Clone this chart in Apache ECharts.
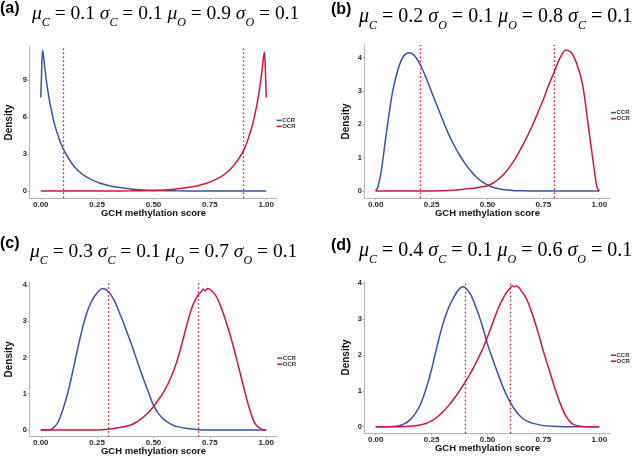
<!DOCTYPE html>
<html><head><meta charset="utf-8">
<script src="https://cdn.jsdelivr.net/npm/echarts@6/dist/echarts.min.js"></script>
<style>html,body{margin:0;padding:0;background:#fff}#c{width:633px;height:471px}</style>
</head><body><div id="c"></div>
<script>
// ---------- data ----------
const panelLabels = ['(a)', '(b)', '(c)', '(d)'];
const seriesNames = ['CCR', 'OCR'];
const muC = [0.1, 0.2, 0.3, 0.4];
const muO = [0.9, 0.8, 0.7, 0.6];
const titleTermsA = [['μ','C','0.1'], ['σ','C','0.1'], ['μ','O','0.9'], ['σ','O','0.1']];
const titleTermsB = [['μ','C','0.2'], ['σ','O','0.1'], ['μ','O','0.8'], ['σ','C','0.1']];
const titleTermsC = [['μ','C','0.3'], ['σ','C','0.1'], ['μ','O','0.7'], ['σ','O','0.1']];
const titleTermsD = [['μ','C','0.4'], ['σ','C','0.1'], ['μ','O','0.6'], ['σ','O','0.1']];
const xTickValues = [0, 0.25, 0.5, 0.75, 1];
const xTickLabels = ['0.00', '0.25', '0.50', '0.75', '1.00'];
const yTickValuesA = [0, 3, 6, 9];
const yTickValuesBCD = [0, 1, 2, 3, 4];
const xAxisTitle = 'GCH methylation score';
const yAxisTitle = 'Density';

const aCcrX = [0,0.004,0.008,0.012,0.02,0.03,0.04,0.05,0.06,0.08,0.1,0.125,0.15,0.175,0.2,0.25,0.3,0.35,0.4,0.45,0.5,0.55,0.6,0.7,0.8,0.9,1];
const aCcrY = [7.6,9.8,11.45,11.0,9.7,8.3,7.2,6.3,5.5,4.3,3.4,2.6,1.95,1.5,1.17,0.72,0.45,0.28,0.16,0.09,0.05,0.025,0.01,0.002,0,0,0];
const aOcrX = [0,0.1,0.2,0.3,0.4,0.45,0.5,0.55,0.6,0.65,0.7,0.75,0.8,0.825,0.85,0.875,0.9,0.92,0.94,0.95,0.96,0.97,0.98,0.988,0.992,0.996,1];
const aOcrY = [0,0,0,0.002,0.01,0.025,0.05,0.09,0.16,0.28,0.45,0.72,1.17,1.5,1.95,2.55,3.3,4.25,5.45,6.25,7.15,8.25,9.6,10.9,11.3,9.9,7.6];

const bCcrX = [0,0.01,0.025,0.05,0.075,0.1,0.125,0.15,0.175,0.2,0.225,0.25,0.275,0.3,0.325,0.35,0.375,0.4,0.425,0.45,0.475,0.5,0.525,0.55,0.575,0.6,0.625,0.65,0.7,0.8,0.9,1];
const bCcrY = [0,0.12,0.6,1.85,2.95,3.65,4.05,4.15,4.05,3.78,3.4,2.97,2.55,2.12,1.72,1.38,1.08,0.82,0.6,0.42,0.28,0.18,0.11,0.065,0.038,0.02,0.01,0.005,0,0,0,0];
const bOcrX = [0,0.1,0.2,0.3,0.35,0.4,0.45,0.5,0.525,0.55,0.575,0.6,0.625,0.65,0.675,0.7,0.725,0.75,0.775,0.8,0.825,0.85,0.875,0.9,0.925,0.95,0.975,0.99,1];
const bOcrY = [0,0,0,0.005,0.02,0.06,0.1,0.16,0.24,0.36,0.52,0.73,0.98,1.28,1.6,1.95,2.35,2.75,3.2,3.6,4.0,4.23,4.15,3.8,3.2,2.0,0.75,0.1,0];

const cCcrX = [0,0.025,0.05,0.075,0.1,0.125,0.15,0.175,0.2,0.225,0.25,0.275,0.3,0.325,0.35,0.375,0.4,0.425,0.45,0.475,0.5,0.525,0.55,0.575,0.6,0.65,0.7,0.75,0.8,0.9,1];
const cCcrY = [0,0,0.03,0.2,0.6,1.15,1.85,2.55,3.15,3.55,3.78,3.9,3.82,3.58,3.22,2.82,2.4,1.95,1.5,1.08,0.68,0.43,0.27,0.17,0.1,0.04,0.01,0,0,0,0];
const cOcrX = [0,0.1,0.2,0.25,0.3,0.35,0.4,0.425,0.45,0.475,0.5,0.525,0.55,0.575,0.6,0.625,0.65,0.675,0.7,0.71,0.72,0.73,0.74,0.75,0.775,0.8,0.825,0.85,0.875,0.9,0.925,0.95,0.975,1];
const cOcrY = [0,0,0,0,0.02,0.07,0.14,0.22,0.33,0.47,0.64,0.86,1.1,1.42,1.82,2.35,2.95,3.45,3.74,3.8,3.88,3.84,3.9,3.88,3.72,3.38,2.92,2.4,1.8,1.18,0.6,0.18,0.03,0];

const dCcrX = [0,0.05,0.1,0.125,0.15,0.175,0.2,0.225,0.25,0.275,0.3,0.325,0.35,0.375,0.39,0.4,0.425,0.45,0.475,0.5,0.525,0.55,0.575,0.6,0.625,0.65,0.675,0.7,0.75,0.8,0.85,0.9,1];
const dCcrY = [0,0,0.02,0.07,0.17,0.35,0.62,1.05,1.6,2.25,2.85,3.3,3.62,3.85,3.9,3.88,3.68,3.3,2.85,2.3,1.85,1.42,1.02,0.7,0.45,0.27,0.16,0.1,0.03,0.01,0,0,0];
const dOcrX = [0,0.1,0.15,0.2,0.225,0.25,0.275,0.3,0.325,0.35,0.375,0.4,0.425,0.45,0.475,0.5,0.525,0.55,0.575,0.59,0.6,0.61,0.62,0.63,0.64,0.65,0.675,0.7,0.725,0.75,0.775,0.8,0.825,0.85,0.875,0.9,0.95,1];
const dOcrY = [0,0,0.01,0.05,0.09,0.16,0.27,0.41,0.58,0.78,1.0,1.24,1.5,1.8,2.12,2.5,2.92,3.33,3.64,3.78,3.85,3.92,3.9,3.92,3.88,3.8,3.55,3.15,2.65,2.1,1.6,1.1,0.65,0.3,0.1,0.03,0,0];

// ---------- layout / style ----------
const BLUE = '#3a54a3', RED = '#d3163d', DOT = '#c4122f', AXIS = '#b4b4b4', LAB = '#2a2a2a';
const panels = [
  {terms: titleTermsA, ccr: [aCcrX, aCcrY], ocr: [aOcrX, aOcrY], yTicks: yTickValuesA,
   grid: {left: 29.5, top: 47, width: 248, height: 151}, yMin: -0.57, yMax: 11.71,
   label: [0, 0.5], math: [32, 21, 19.5], legend: [276.7, 117.4], yGap: 15},
  {terms: titleTermsB, ccr: [bCcrX, bCcrY], ocr: [bOcrX, bOcrY], yTicks: yTickValuesBCD,
   grid: {left: 364.5, top: 45, width: 246, height: 153}, yMin: -0.21, yMax: 4.38,
   label: [331, 2], math: [359, 24, 20], legend: [611, 109.6], yGap: 13},
  {terms: titleTermsC, ccr: [cCcrX, cCcrY], ocr: [cOcrX, cOcrY], yTicks: yTickValuesBCD,
   grid: {left: 29.5, top: 282, width: 248, height: 154.7}, yMin: -0.185, yMax: 4.08,
   label: [0, 235.5], math: [30, 258.5, 19.5], legend: [277.3, 355.3], yGap: 15},
  {terms: titleTermsD, ccr: [dCcrX, dCcrY], ocr: [dOcrX, dOcrY], yTicks: yTickValuesBCD,
   grid: {left: 364.5, top: 281.7, width: 246, height: 151.6}, yMin: -0.184, yMax: 4.04,
   label: [331, 238], math: [359, 258, 20], legend: [611, 352.2], yGap: 13}
];

const zip = (xs, ys) => xs.map((x, k) => [x, ys[k]]);
const SERIF = 'Liberation Serif';
const mctx = document.createElement('canvas').getContext('2d');
function mathElements(terms, x0, baseline, size) {
  const els = [];
  let x = x0;
  const subSize = Math.round(size * 0.6);
  const mainY = baseline - 0.34 * size;
  const subY = baseline + 2;
  terms.forEach((t, k) => {
    const parts = [
      [t[0], 'italic', size, mainY],
      [t[1], 'italic', subSize, subY],
      [' = ' + t[2] + (k < terms.length - 1 ? ' ' : ''), 'normal', size, mainY]
    ];
    parts.forEach(([txt, fs, sz, y]) => {
      els.push({type: 'text', x: x, y: y, silent: true, z: 10,
        style: {text: txt, fontFamily: SERIF, fontStyle: fs, fontWeight: 'normal', fontSize: sz,
          fill: '#000', align: 'left', verticalAlign: 'middle'}});
      mctx.font = `${fs} ${sz}px "${SERIF}"`;
      x += mctx.measureText(txt).width;
    });
  });
  return els;
}

const option = {
  animation: false,
  backgroundColor: '#fff',
  title: [], grid: [], xAxis: [], yAxis: [], series: [], legend: [], graphic: []
};

panels.forEach((p, i) => {
  option.title.push({text: panelLabels[i], left: p.label[0], top: p.label[1], padding: 0,
    textStyle: {fontFamily: 'Liberation Sans', fontWeight: 'bold', fontSize: 16, color: '#000'}});
  mathElements(p.terms, p.math[0], p.math[1], p.math[2]).forEach(e => option.graphic.push(e));
  option.grid.push(Object.assign({containLabel: false}, p.grid));
  option.xAxis.push({
    type: 'value', gridIndex: i, min: -0.05, max: 1.05,
    splitLine: {show: false},
    axisLine: {show: true, onZero: false, lineStyle: {color: AXIS, width: 1}},
    axisTick: {show: true, length: 2, customValues: xTickValues, lineStyle: {color: AXIS}},
    axisLabel: {customValues: xTickValues, margin: 2.5, fontSize: 8, fontWeight: 'bold',
      fontFamily: 'Liberation Sans', color: LAB,
      formatter: v => xTickLabels[xTickValues.indexOf(v)] ?? ''},
    name: xAxisTitle, nameLocation: 'middle', nameGap: 10, nameMoveOverlap: false,
    nameTextStyle: {fontFamily: 'Liberation Sans', fontWeight: 'bold', fontSize: 9.5, color: '#111'}
  });
  option.yAxis.push({
    type: 'value', gridIndex: i, min: p.yMin, max: p.yMax,
    splitLine: {show: false},
    axisLine: {show: true, onZero: false, lineStyle: {color: AXIS, width: 1}},
    axisTick: {show: true, length: 2, customValues: p.yTicks, lineStyle: {color: AXIS}},
    axisLabel: {customValues: p.yTicks, margin: 2.5, fontSize: 7.5, fontWeight: 'bold',
      fontFamily: 'Liberation Sans', color: LAB, formatter: v => String(v)},
    name: yAxisTitle, nameLocation: 'middle', nameGap: p.yGap, nameRotate: 90, nameMoveOverlap: false,
    nameTextStyle: {fontFamily: 'Liberation Sans', fontWeight: 'bold', fontSize: 10, color: '#111'}
  });
  option.series.push({
    name: seriesNames[0], type: 'line', xAxisIndex: i, yAxisIndex: i,
    data: zip(p.ccr[0], p.ccr[1]), showSymbol: false, symbol: 'none', smooth: 0.3,
    color: BLUE, lineStyle: {color: BLUE, width: 1.5}, silent: true
  });
  option.series.push({
    name: seriesNames[1], type: 'line', xAxisIndex: i, yAxisIndex: i,
    data: zip(p.ocr[0], p.ocr[1]), showSymbol: false, symbol: 'none', smooth: 0.3,
    color: RED, lineStyle: {color: RED, width: 1.5}, silent: true,
    markLine: {silent: true, symbol: ['none', 'none'], label: {show: false},
      lineStyle: {color: DOT, type: [1.5, 2.5], width: 1.3},
      emphasis: {disabled: true},
      data: [{xAxis: muC[i]}, {xAxis: muO[i]}]}
  });
  option.legend.push({
    left: p.legend[0], top: p.legend[1], orient: 'vertical', padding: 0,
    itemWidth: 5, itemHeight: 1.6, itemGap: 0, icon: 'rect', selectedMode: false,
    textStyle: {fontFamily: 'Liberation Sans', fontSize: 6, fontWeight: 'bold', color: '#333',
      lineHeight: 4.8, padding: [0, 0, 0, -4.5]},
    data: seriesNames
  });
});

const chart = echarts.init(document.getElementById('c'), null, {renderer: 'canvas'});
chart.setOption(option);
</script></body></html>
